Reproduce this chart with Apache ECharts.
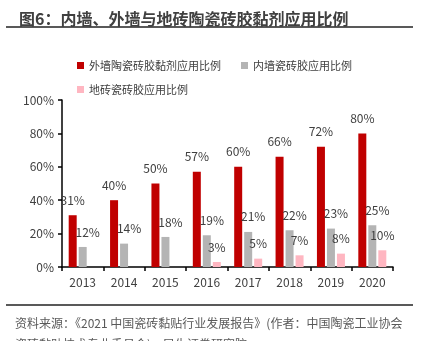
<!DOCTYPE html>
<html><head><meta charset="utf-8">
<script src="https://cdn.jsdelivr.net/npm/echarts@6/dist/echarts.min.js"></script>
<style>html,body{margin:0;padding:0;background:#fff}#c{width:425px;height:341px}</style>
</head><body><div id="c"></div>
<script>
const categories = ['2013','2014','2015','2016','2017','2018','2019','2020'];
const seriesNames = ['外墙陶瓷砖胶黏剂应用比例','内墙瓷砖胶应用比例','地砖瓷砖胶应用比例'];
const exteriorWall = [31,40,50,57,60,66,72,80];
const interiorWall = [12,14,18,19,21,22,23,25];
const floorTile = [null,null,null,3,5,7,8,10];
const yTicks = [0,20,40,60,80,100];
const titleText = '图6：内墙、外墙与地砖陶瓷砖胶黏剂应用比例';
const footerText = '资料来源：《2021 中国瓷砖黏贴行业发展报告》(作者：中国陶瓷工业协会\n瓷砖黏贴技术专业委员会)，民生证券研究院';

const FONT = '"Noto Sans CJK SC", "Noto Sans", sans-serif';
const chart = echarts.init(document.getElementById('c'));
const lbl = (off) => ({show:true, position:'top', distance:9, offset:off, color:'#404040', fontSize:12, fontFamily:FONT, formatter: p => p.value + '%'});
chart.setOption({
  animation:false,
  textStyle:{fontFamily:FONT},
  title:{text:titleText, left:14, top:6, textStyle:{fontSize:16, fontWeight:'bold', color:'#404040', fontFamily:FONT}},
  graphic:[
    {type:'line', shape:{x1:6,y1:27,x2:413,y2:27}, style:{stroke:'#595959', lineWidth:2}},
    {type:'line', shape:{x1:6,y1:305,x2:413,y2:305}, style:{stroke:'#595959', lineWidth:2}},
    {type:'text', left:15, top:313, style:{text:footerText, fill:'#595959', font:'12px '+FONT, lineHeight:21}}
  ],
  legend:[
    {data:[seriesNames[0],seriesNames[1]], left:72, top:55, itemWidth:7, itemHeight:7, itemGap:20, icon:'rect', textStyle:{fontSize:11, color:'#404040', fontFamily:FONT}},
    {data:[seriesNames[2]], left:72, top:79, itemWidth:7, itemHeight:7, icon:'rect', textStyle:{fontSize:11, color:'#404040', fontFamily:FONT}}
  ],
  grid:{left:62, right:32, top:100, bottom:74},
  xAxis:{type:'category', data:categories,
    axisLine:{lineStyle:{color:'#000', width:1.5}},
    axisTick:{show:true, length:4, lineStyle:{color:'#000', width:1.5}},
    axisLabel:{color:'#404040', fontSize:12, margin:9, fontFamily:FONT}},
  yAxis:{type:'value', min:yTicks[0], max:yTicks[yTicks.length-1], interval:20,
    splitLine:{show:false},
    axisLine:{show:true, lineStyle:{color:'#000', width:1.5}},
    axisTick:{show:true, length:4, lineStyle:{color:'#000', width:1.5}},
    axisLabel:{color:'#404040', fontSize:12, margin:8, formatter:'{value}%', fontFamily:FONT}},
  series:[
    {name:seriesNames[0], type:'bar', data:exteriorWall, barWidth:8, barGap:'25%', itemStyle:{color:'#C00000'}, label:lbl([0,0])},
    {name:seriesNames[1], type:'bar', data:interiorWall, barWidth:8, barGap:'25%', itemStyle:{color:'#B4B4B4'}, label:lbl([5,0])},
    {name:seriesNames[2], type:'bar', data:floorTile, barWidth:8, barGap:'25%', itemStyle:{color:'#FFB6C1'}, label:lbl([0,0])}
  ]
});
</script></body></html>
